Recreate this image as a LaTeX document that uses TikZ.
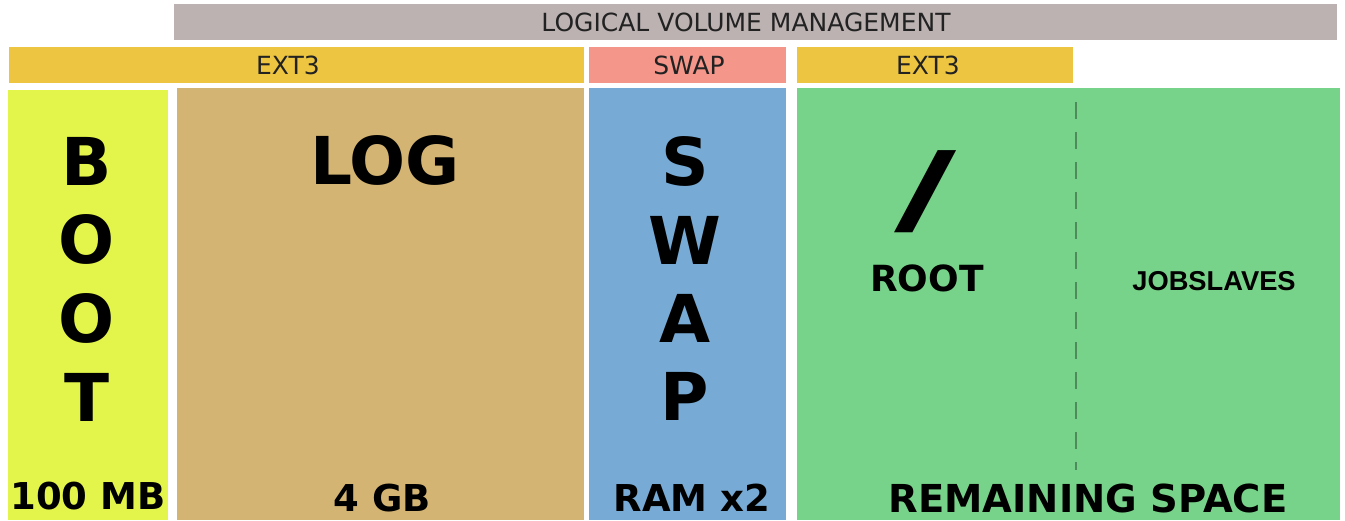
\documentclass[tikz,border=0pt]{standalone}
\usepackage{fontspec}
\setmainfont{DejaVu Sans}
\newfontfamily\arialbold{Liberation Sans}[BoldFont={* Bold}]
\definecolor{lvmgrey}{HTML}{BCB2B2}
\definecolor{extyellow}{HTML}{EEC540}
\definecolor{swapred}{HTML}{F4968A}
\definecolor{bootlime}{HTML}{E3F54A}
\definecolor{logtan}{HTML}{D4B473}
\definecolor{swapblue}{HTML}{77AAD4}
\definecolor{rootgreen}{HTML}{78D38A}
\definecolor{dashgreen}{HTML}{4F8A5C}
\definecolor{labelink}{HTML}{222222}
\tikzset{
  bandtext/.style={text=labelink, font=\fontsize{25}{25}\selectfont, inner sep=0pt},
  bigletter/.style={font=\fontsize{66}{66}\selectfont\bfseries, inner sep=0pt},
  sizetext/.style={font=\fontsize{37}{37}\selectfont\bfseries, inner sep=0pt},
}
\begin{document}
\begin{tikzpicture}[x=1pt,y=-1pt]
\useasboundingbox (0,0) rectangle (1345,520);
% top bands
\fill[lvmgrey] (174,4) rectangle (1337,40);
\node[bandtext] (lvm) at (746,22.5) {LOGICAL VOLUME MANAGEMENT};
\fill[extyellow] (9,47) rectangle (584,83);
\node[bandtext] (extA) at (288,65.5) {EXT3};
\fill[swapred] (589,47) rectangle (786,83);
\node[bandtext] (swapband) at (689,65.5) {SWAP};
\fill[extyellow] (797,47) rectangle (1073,83);
\node[bandtext] (extB) at (928,65.5) {EXT3};
% partition blocks
\fill[bootlime] (8,90) rectangle (168,520);
\fill[logtan] (177,88) rectangle (584,520);
\fill[swapblue] (589,88) rectangle (786,520);
\fill[rootgreen] (797,88) rectangle (1340,520);
\coordinate (divtop) at (1076,102);
\coordinate (divbot) at (1076,470);
\draw[dashgreen, line width=1.6pt, dash pattern=on 17pt off 13pt] (divtop) -- (divbot);
% BOOT
\node[bigletter] (b1) at (87,161) {B};
\node[bigletter] (b2) at (87,239) {O};
\node[bigletter] (b3) at (87,318) {O};
\node[bigletter] (b4) at (87,397) {T};
\node[sizetext] (bootsize) at (88,496) {100 MB};
% LOG
\node[bigletter] (log) at (385,160) {LOG};
\node[sizetext] (logsize) at (382,498) {4 GB};
% SWAP
\node[bigletter] (s1) at (685,161) {S};
\node[bigletter] (s2) at (685,240) {W};
\node[bigletter] (s3) at (685,318) {A};
\node[bigletter] (s4) at (685,396) {P};
\node[sizetext] (swapsize) at (692,498) {RAM x2};
% root and jobslaves
\node[font=\fontsize{100}{100}\selectfont\bfseries, inner sep=0pt] (slash) at (926,192) {\scalebox{1.7}[1]{/}};
\node[font=\fontsize{36}{36}\selectfont\bfseries, inner sep=0pt] (root) at (927,278) {ROOT};
\node[font=\fontsize{27.3}{27.3}\selectfont\arialbold\bfseries, inner sep=0pt] (jobs) at (1214,281) {JOBSLAVES};
\node[font=\fontsize{38.5}{38.5}\selectfont\bfseries, inner sep=0pt] (remain) at (1088,498) {REMAINING SPACE};
\end{tikzpicture}
\end{document}
